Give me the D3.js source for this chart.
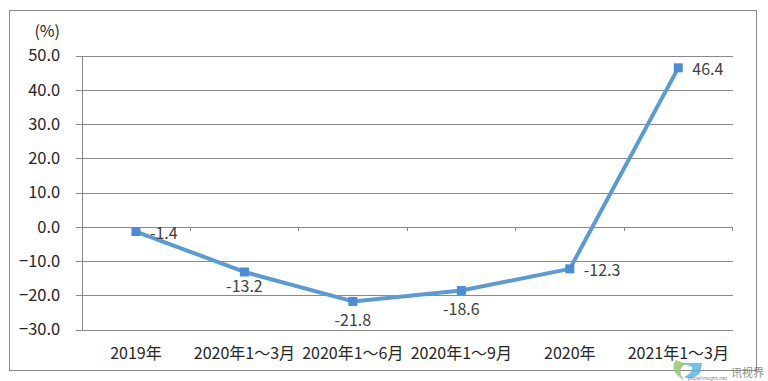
<!DOCTYPE html>
<html><head><meta charset="utf-8">
<script src="https://cdn.jsdelivr.net/npm/d3@7"></script>
<style>html,body{margin:0;padding:0;background:#fff;}svg{display:block;}</style>
</head><body>
<svg id="c" width="768" height="381"></svg>
<script>
const categories = ["2019年","2020年1～3月","2020年1～6月","2020年1～9月","2020年","2021年1～3月"];
const values = [-1.4, -13.2, -21.8, -18.6, -12.3, 46.4];
const yTicks = [50, 40, 30, 20, 10, 0, -10, -20, -30];
const labelPlacement = ["right","below","below","below","right","right"];

const svg = d3.select("#c");
const font = "'Noto Sans CJK SC','Noto Sans',sans-serif";
const pL = 81.7, pR = 732.5, pT = 55.5, pB = 329.5;

svg.append("rect").attr("x",9.5).attr("y",10.5).attr("width",747).attr("height",360)
  .attr("fill","#fff").attr("stroke","#8a8a8a").attr("stroke-width",1);

const x = d3.scaleBand().domain(categories).range([pL,pR]).paddingInner(0).paddingOuter(0);
const y = d3.scaleLinear().domain([-30,50]).range([pB,pT]);

// gridlines + y axis
const yAxis = d3.axisLeft(y).tickValues(yTicks).tickFormat(d3.format(".1f"))
  .tickSizeInner(-(pR-pL)).tickSizeOuter(0).tickPadding(0);
const gy = svg.append("g").attr("transform",`translate(${pL},0)`).call(yAxis);
gy.select(".domain").attr("stroke","#8a8a8a").attr("shape-rendering","crispEdges");
gy.selectAll(".tick line").attr("stroke","#8a8a8a").attr("x1",-6).attr("shape-rendering","crispEdges");
gy.selectAll(".tick text").attr("x",-21.5).attr("font-family",font).attr("font-size",16.5).attr("fill","#262626");

svg.append("text").attr("x",60).attr("y",37).attr("text-anchor","end")
  .attr("font-family",font).attr("font-size",16).attr("fill","#262626").text("(%)");

// x axis at zero with tick marks at band boundaries
const xAxis = d3.axisBottom(x).tickSize(0).tickFormat("");
const gx = svg.append("g").attr("transform",`translate(0,${y(0)})`).call(xAxis);
gx.select(".domain").remove();
const bounds = categories.map(c => x(c)).concat([x(categories[categories.length-1]) + x.bandwidth()]).slice(1);
gx.selectAll("line.bt").data(bounds).enter().append("line").attr("class","bt")
  .attr("x1",d=>d).attr("x2",d=>d).attr("y1",0).attr("y2",4)
  .attr("stroke","#8a8a8a").attr("shape-rendering","crispEdges");

// category labels
svg.append("g").selectAll("text").data(categories).enter().append("text")
  .attr("x",d=>x(d)+x.bandwidth()/2).attr("y",359).attr("text-anchor","middle")
  .attr("font-family",font).attr("font-size",16).attr("fill","#262626").text(d=>d);

// line
const line = d3.line().x((d,i)=>x(categories[i])+x.bandwidth()/2).y(d=>y(d));
svg.append("path").datum(values).attr("d",line).attr("fill","none")
  .attr("stroke","#5b9bd5").attr("stroke-width",4).attr("stroke-linejoin","round");

svg.append("g").selectAll("rect").data(values).enter().append("rect")
  .attr("x",(d,i)=>x(categories[i])+x.bandwidth()/2-4.5).attr("y",d=>y(d)-4.5)
  .attr("width",9).attr("height",9).attr("fill","#4a8cd6");

// data labels
svg.append("g").selectAll("text").data(values).enter().append("text")
  .attr("x",(d,i)=>x(categories[i])+x.bandwidth()/2 + (labelPlacement[i]==="right"?14:0))
  .attr("y",(d,i)=>y(d) + (labelPlacement[i]==="right"?1.5:(i===1?14:18.5)))
  .attr("dy","0.35em")
  .attr("text-anchor",(d,i)=>labelPlacement[i]==="right"?"start":"middle")
  .attr("font-family",font).attr("font-size",16).attr("fill","#404040")
  .text(d=>d.toFixed(1));

// watermark
const wm = svg.append("g");
wm.append("path").attr("d","M676,360 Q668,371 684,380 Q676,369 686,364 Z").attr("fill","#8cc36a").attr("opacity",0.8);
wm.append("path").attr("d","M682,363 L702,363 L700,373 Q692,381 684,377 Q694,372 692,367 Z").attr("fill","#4fb2e0").attr("opacity",0.8);
wm.append("text").attr("x",731).attr("y",377).attr("font-family","'Noto Sans CJK SC',sans-serif")
  .attr("font-size",11).attr("fill","#777").attr("opacity",0.85).text("讯视界");
wm.append("text").attr("x",688).attr("y",380).attr("font-family","'Noto Sans',sans-serif")
  .attr("font-size",5).attr("fill","#888").text("paperinsight.net");
</script>
</body></html>
